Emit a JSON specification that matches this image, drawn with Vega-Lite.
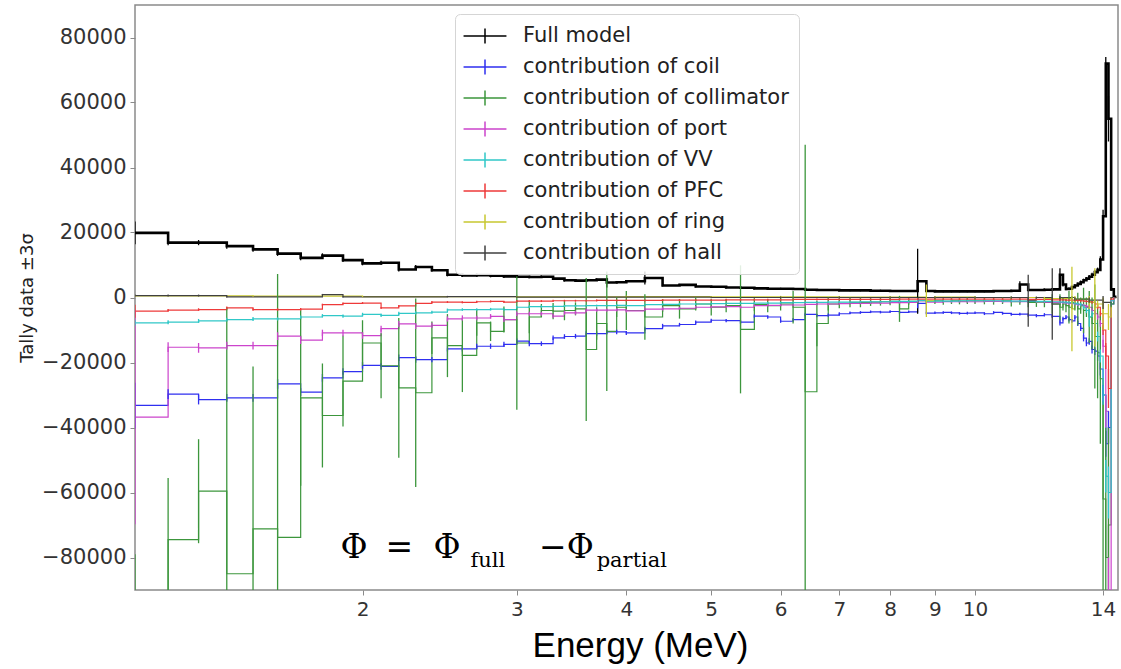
{
"$schema": "https://vega.github.io/schema/vega-lite/v6.json",
"width": 983, "height": 585,
"autosize": {"type": "none"},
"padding": {"left": 135, "top": 5, "right": 3, "bottom": 79},
"background": "white",
"config": {"view": {"stroke": "#8a8a8a", "strokeWidth": 1.5}, "font": "DejaVu Sans"},
"datasets": {
"formula": [{"E": 1.888, "v": -80000, "t": "Φ"}, {"E": 2.124, "v": -80000, "t": "="}, {"E": 2.41, "v": -80000, "t": "Φ"}, {"E": 3.18, "v": -80000, "t": "−Φ"}],
"sub": [{"E": 2.656, "v": -83000, "t": "full"}, {"E": 3.70, "v": -83000, "t": "partial"}],
"tally": [
{"s":"full","E":1.1,"v":19900,"err":3500},{"s":"full","E":1.2,"v":16900,"err":800},{"s":"full","E":1.3,"v":16900,"err":800},{"s":"full","E":1.4,"v":15800,"err":800},{"s":"full","E":1.5,"v":14800,"err":700},{"s":"full","E":1.6,"v":13500,"err":700},{"s":"full","E":1.7,"v":12200,"err":700},{"s":"full","E":1.8,"v":12900,"err":700},{"s":"full","E":1.9,"v":11500,"err":600},{"s":"full","E":2,"v":10500,"err":600},{"s":"full","E":2.1,"v":10700,"err":600},{"s":"full","E":2.2,"v":8600,"err":600},{"s":"full","E":2.3,"v":9400,"err":600},{"s":"full","E":2.4,"v":8400,"err":500},{"s":"full","E":2.5,"v":7000,"err":500},{"s":"full","E":2.6,"v":6800,"err":500},{"s":"full","E":2.7,"v":6900,"err":500},{"s":"full","E":2.8,"v":6700,"err":500},{"s":"full","E":2.9,"v":6500,"err":500},{"s":"full","E":3,"v":6400,"err":500},{"s":"full","E":3.1,"v":6300,"err":400},{"s":"full","E":3.2,"v":6400,"err":400},{"s":"full","E":3.3,"v":5800,"err":400},{"s":"full","E":3.4,"v":5300,"err":400},{"s":"full","E":3.5,"v":5200,"err":400},{"s":"full","E":3.6,"v":5300,"err":400},{"s":"full","E":3.7,"v":5500,"err":400},{"s":"full","E":3.8,"v":4600,"err":1500},{"s":"full","E":3.9,"v":4700,"err":400},
{"s":"full","E":4,"v":5000,"err":400},{"s":"full","E":4.2,"v":6000,"err":2000},{"s":"full","E":4.4,"v":3700,"err":300},{"s":"full","E":4.6,"v":3900,"err":300},{"s":"full","E":4.8,"v":3400,"err":300},{"s":"full","E":5,"v":3300,"err":300},{"s":"full","E":5.2,"v":3100,"err":300},{"s":"full","E":5.4,"v":3000,"err":300},{"s":"full","E":5.6,"v":2800,"err":300},{"s":"full","E":5.8,"v":2700,"err":300},{"s":"full","E":6,"v":2700,"err":300},{"s":"full","E":6.2,"v":2600,"err":300},{"s":"full","E":6.4,"v":2400,"err":300},{"s":"full","E":6.6,"v":2300,"err":300},{"s":"full","E":6.8,"v":2300,"err":300},{"s":"full","E":7,"v":2200,"err":300},{"s":"full","E":7.2,"v":2200,"err":300},{"s":"full","E":7.4,"v":2200,"err":300},{"s":"full","E":7.6,"v":2100,"err":300},{"s":"full","E":7.8,"v":2100,"err":300},{"s":"full","E":8,"v":2000,"err":300},{"s":"full","E":8.2,"v":2000,"err":300},{"s":"full","E":8.4,"v":2000,"err":300},{"s":"full","E":8.6,"v":5000,"err":10000},{"s":"full","E":8.8,"v":2000,"err":300},{"s":"full","E":9,"v":1900,"err":300},{"s":"full","E":9.2,"v":1900,"err":300},{"s":"full","E":9.4,"v":1900,"err":300},{"s":"full","E":9.6,"v":1900,"err":300},{"s":"full","E":9.8,"v":1900,"err":300},
{"s":"full","E":10,"v":1900,"err":300},{"s":"full","E":10.25,"v":1900,"err":300},{"s":"full","E":10.5,"v":2000,"err":300},{"s":"full","E":10.75,"v":2000,"err":300},{"s":"full","E":11,"v":2100,"err":300},{"s":"full","E":11.25,"v":4000,"err":1000},{"s":"full","E":11.5,"v":2300,"err":300},{"s":"full","E":11.75,"v":2300,"err":300},{"s":"full","E":12,"v":2400,"err":400},{"s":"full","E":12.25,"v":2500,"err":400},
{"s":"full","E":12.5,"v":7000,"err":2000},{"s":"full","E":12.6,"v":4000,"err":600},{"s":"full","E":12.7,"v":2600,"err":400},{"s":"full","E":12.8,"v":2700,"err":400},{"s":"full","E":12.9,"v":3200,"err":400},{"s":"full","E":13,"v":3700,"err":400},{"s":"full","E":13.1,"v":4200,"err":400},{"s":"full","E":13.2,"v":4700,"err":500},{"s":"full","E":13.3,"v":5300,"err":500},{"s":"full","E":13.4,"v":5800,"err":500},{"s":"full","E":13.5,"v":6400,"err":500},{"s":"full","E":13.6,"v":7000,"err":600},{"s":"full","E":13.7,"v":7800,"err":600},{"s":"full","E":13.8,"v":8500,"err":700},{"s":"full","E":13.9,"v":11700,"err":1000},{"s":"full","E":14,"v":25000,"err":2000},{"s":"full","E":14.1,"v":72000,"err":2000},{"s":"full","E":14.2,"v":55000,"err":7000},{"s":"full","E":14.3,"v":2500,"err":500},{"s":"full","E":14.4,"v":200,"err":100},{"s":"full","E":14.5,"v":200,"err":0},

{"s":"coil","E":1.1,"v":-33200,"err":7000},{"s":"coil","E":1.2,"v":-29700,"err":1500},{"s":"coil","E":1.3,"v":-31400,"err":1500},{"s":"coil","E":1.4,"v":-30900,"err":1200},{"s":"coil","E":1.5,"v":-30900,"err":1200},{"s":"coil","E":1.6,"v":-26600,"err":1500},{"s":"coil","E":1.7,"v":-29100,"err":1200},{"s":"coil","E":1.8,"v":-24700,"err":1200},{"s":"coil","E":1.9,"v":-22800,"err":1000},{"s":"coil","E":2,"v":-20900,"err":1000},{"s":"coil","E":2.1,"v":-21200,"err":1000},{"s":"coil","E":2.2,"v":-18500,"err":1000},{"s":"coil","E":2.3,"v":-19100,"err":1000},{"s":"coil","E":2.4,"v":-19100,"err":800},{"s":"coil","E":2.5,"v":-15800,"err":800},{"s":"coil","E":2.6,"v":-15800,"err":800},{"s":"coil","E":2.7,"v":-15000,"err":800},{"s":"coil","E":2.8,"v":-15000,"err":800},{"s":"coil","E":2.9,"v":-14400,"err":800},{"s":"coil","E":3,"v":-13400,"err":800},{"s":"coil","E":3.1,"v":-14200,"err":800},{"s":"coil","E":3.2,"v":-14200,"err":700},{"s":"coil","E":3.3,"v":-12400,"err":700},{"s":"coil","E":3.4,"v":-12000,"err":700},{"s":"coil","E":3.5,"v":-11900,"err":700},{"s":"coil","E":3.6,"v":-11100,"err":700},{"s":"coil","E":3.7,"v":-11100,"err":700},{"s":"coil","E":3.8,"v":-10600,"err":700},{"s":"coil","E":3.9,"v":-10600,"err":700},
{"s":"coil","E":4,"v":-10900,"err":600},{"s":"coil","E":4.2,"v":-9600,"err":600},{"s":"coil","E":4.4,"v":-8700,"err":600},{"s":"coil","E":4.6,"v":-8300,"err":500},{"s":"coil","E":4.8,"v":-7600,"err":500},{"s":"coil","E":5,"v":-7000,"err":500},{"s":"coil","E":5.2,"v":-7100,"err":500},{"s":"coil","E":5.4,"v":-7600,"err":500},{"s":"coil","E":5.6,"v":-5700,"err":500},{"s":"coil","E":5.8,"v":-6000,"err":500},{"s":"coil","E":6,"v":-7300,"err":500},{"s":"coil","E":6.2,"v":-6800,"err":500},{"s":"coil","E":6.4,"v":-5200,"err":500},{"s":"coil","E":6.6,"v":-5600,"err":500},{"s":"coil","E":6.8,"v":-5400,"err":500},{"s":"coil","E":7,"v":-5000,"err":500},{"s":"coil","E":7.2,"v":-4700,"err":400},{"s":"coil","E":7.4,"v":-4600,"err":400},{"s":"coil","E":7.6,"v":-4400,"err":400},{"s":"coil","E":7.8,"v":-4500,"err":400},{"s":"coil","E":8,"v":-4300,"err":400},{"s":"coil","E":8.2,"v":-4600,"err":400},{"s":"coil","E":8.4,"v":-4400,"err":400},{"s":"coil","E":8.6,"v":-1800,"err":1500},{"s":"coil","E":8.8,"v":-4800,"err":400},{"s":"coil","E":9,"v":-4700,"err":400},{"s":"coil","E":9.2,"v":-4600,"err":400},{"s":"coil","E":9.4,"v":-4700,"err":400},{"s":"coil","E":9.6,"v":-4900,"err":400},{"s":"coil","E":9.8,"v":-4800,"err":400},
{"s":"coil","E":10,"v":-4700,"err":400},{"s":"coil","E":10.25,"v":-5000,"err":400},{"s":"coil","E":10.5,"v":-4600,"err":400},{"s":"coil","E":10.75,"v":-4900,"err":400},{"s":"coil","E":11,"v":-5200,"err":400},{"s":"coil","E":11.25,"v":-5100,"err":400},{"s":"coil","E":11.5,"v":-5400,"err":500},{"s":"coil","E":11.75,"v":-5600,"err":500},{"s":"coil","E":12,"v":-5300,"err":500},{"s":"coil","E":12.25,"v":-5800,"err":500},
{"s":"coil","E":12.5,"v":-7800,"err":800},{"s":"coil","E":12.6,"v":-6500,"err":600},{"s":"coil","E":12.7,"v":-6000,"err":600},{"s":"coil","E":12.8,"v":-6800,"err":600},{"s":"coil","E":12.9,"v":-7200,"err":600},{"s":"coil","E":13,"v":-6000,"err":600},{"s":"coil","E":13.1,"v":-8000,"err":800},{"s":"coil","E":13.2,"v":-9500,"err":800},{"s":"coil","E":13.3,"v":-12500,"err":1000},{"s":"coil","E":13.4,"v":-14000,"err":1000},{"s":"coil","E":13.5,"v":-13500,"err":1000},{"s":"coil","E":13.6,"v":-16000,"err":1200},{"s":"coil","E":13.7,"v":-16500,"err":1200},{"s":"coil","E":13.8,"v":-18000,"err":1500},{"s":"coil","E":13.9,"v":-22000,"err":2000},{"s":"coil","E":14,"v":-30000,"err":3000},{"s":"coil","E":14.1,"v":-45000,"err":4000},{"s":"coil","E":14.2,"v":-40000,"err":5000},{"s":"coil","E":14.3,"v":-2000,"err":500},{"s":"coil","E":14.4,"v":0,"err":100},{"s":"coil","E":14.5,"v":0,"err":0},

{"s":"collimator","E":1.1,"v":-105000,"err":26000},{"s":"collimator","E":1.2,"v":-74500,"err":19000},{"s":"collimator","E":1.3,"v":-59600,"err":16000},{"s":"collimator","E":1.4,"v":-85000,"err":82000},{"s":"collimator","E":1.5,"v":-71200,"err":50000},{"s":"collimator","E":1.6,"v":-73800,"err":81000},{"s":"collimator","E":1.7,"v":-30900,"err":27000},{"s":"collimator","E":1.8,"v":-36300,"err":16000},{"s":"collimator","E":1.9,"v":-25700,"err":14000},{"s":"collimator","E":2,"v":-14000,"err":7000},{"s":"collimator","E":2.1,"v":-21000,"err":10000},{"s":"collimator","E":2.2,"v":-27800,"err":21500},{"s":"collimator","E":2.3,"v":-29300,"err":29000},{"s":"collimator","E":2.4,"v":-12400,"err":5000},{"s":"collimator","E":2.5,"v":-14800,"err":9700},{"s":"collimator","E":2.6,"v":-17800,"err":11300},{"s":"collimator","E":2.7,"v":-7800,"err":4000},{"s":"collimator","E":2.8,"v":-10400,"err":3000},{"s":"collimator","E":2.9,"v":-6800,"err":4000},{"s":"collimator","E":3,"v":-14000,"err":20500},{"s":"collimator","E":3.1,"v":-6000,"err":5000},{"s":"collimator","E":3.2,"v":-4000,"err":2000},{"s":"collimator","E":3.3,"v":-4200,"err":2500},{"s":"collimator","E":3.4,"v":-4000,"err":3000},{"s":"collimator","E":3.5,"v":-3500,"err":2000},{"s":"collimator","E":3.6,"v":-16000,"err":22000},{"s":"collimator","E":3.7,"v":-8000,"err":5000},{"s":"collimator","E":3.8,"v":-10400,"err":18400},{"s":"collimator","E":3.9,"v":-3000,"err":3000},
{"s":"collimator","E":4,"v":-4000,"err":6000},{"s":"collimator","E":4.2,"v":-6000,"err":7000},{"s":"collimator","E":4.4,"v":-2500,"err":2000},{"s":"collimator","E":4.6,"v":-3500,"err":3000},{"s":"collimator","E":4.8,"v":-2000,"err":2000},{"s":"collimator","E":5,"v":-3000,"err":2500},{"s":"collimator","E":5.2,"v":-2500,"err":2000},{"s":"collimator","E":5.4,"v":-9800,"err":19700},{"s":"collimator","E":5.6,"v":-2200,"err":2000},{"s":"collimator","E":5.8,"v":-2500,"err":2000},{"s":"collimator","E":6,"v":-2000,"err":2000},{"s":"collimator","E":6.2,"v":-3000,"err":5000},{"s":"collimator","E":6.4,"v":-29000,"err":76000},{"s":"collimator","E":6.6,"v":-8000,"err":7000},{"s":"collimator","E":6.8,"v":-2000,"err":2000},{"s":"collimator","E":7,"v":-1800,"err":1500},{"s":"collimator","E":7.2,"v":-1500,"err":1500},{"s":"collimator","E":7.4,"v":-1500,"err":1500},{"s":"collimator","E":7.6,"v":-1400,"err":1200},{"s":"collimator","E":7.8,"v":-1300,"err":1200},{"s":"collimator","E":8,"v":-1200,"err":1200},{"s":"collimator","E":8.2,"v":-3500,"err":4000},{"s":"collimator","E":8.4,"v":-1200,"err":1000},{"s":"collimator","E":8.6,"v":-1000,"err":1000},{"s":"collimator","E":8.8,"v":-1100,"err":1000},{"s":"collimator","E":9,"v":-1000,"err":1000},{"s":"collimator","E":9.2,"v":-1200,"err":1000},{"s":"collimator","E":9.4,"v":-1000,"err":1000},{"s":"collimator","E":9.6,"v":-1100,"err":1000},{"s":"collimator","E":9.8,"v":-1000,"err":1000},
{"s":"collimator","E":10,"v":-1000,"err":1000},{"s":"collimator","E":10.25,"v":-1100,"err":1000},{"s":"collimator","E":10.5,"v":-1200,"err":1000},{"s":"collimator","E":10.75,"v":-1000,"err":1000},{"s":"collimator","E":11,"v":-1300,"err":1500},{"s":"collimator","E":11.25,"v":-1200,"err":1000},{"s":"collimator","E":11.5,"v":-1500,"err":1500},{"s":"collimator","E":11.75,"v":-1400,"err":1500},{"s":"collimator","E":12,"v":-1500,"err":1500},{"s":"collimator","E":12.25,"v":-2000,"err":3000},
{"s":"collimator","E":12.5,"v":-3000,"err":4000},{"s":"collimator","E":12.6,"v":-2000,"err":2000},{"s":"collimator","E":12.7,"v":-2500,"err":2000},{"s":"collimator","E":12.8,"v":-3000,"err":5000},{"s":"collimator","E":12.9,"v":-1500,"err":2000},{"s":"collimator","E":13,"v":-2000,"err":2000},{"s":"collimator","E":13.1,"v":-3500,"err":5000},{"s":"collimator","E":13.2,"v":-2500,"err":2500},{"s":"collimator","E":13.3,"v":-4000,"err":7000},{"s":"collimator","E":13.4,"v":-3000,"err":3000},{"s":"collimator","E":13.5,"v":-6000,"err":8000},{"s":"collimator","E":13.6,"v":-8000,"err":8000},{"s":"collimator","E":13.7,"v":-12000,"err":16000},{"s":"collimator","E":13.8,"v":-17000,"err":14000},{"s":"collimator","E":13.9,"v":-25000,"err":20000},{"s":"collimator","E":14,"v":-62000,"err":30000},{"s":"collimator","E":14.1,"v":-80000,"err":40000},{"s":"collimator","E":14.2,"v":-70000,"err":30000},{"s":"collimator","E":14.3,"v":-2000,"err":1000},{"s":"collimator","E":14.4,"v":0,"err":100},{"s":"collimator","E":14.5,"v":0,"err":0},

{"s":"port","E":1.1,"v":-36800,"err":33000},{"s":"port","E":1.2,"v":-15300,"err":1500},{"s":"port","E":1.3,"v":-15500,"err":1500},{"s":"port","E":1.4,"v":-14800,"err":1200},{"s":"port","E":1.5,"v":-14800,"err":1200},{"s":"port","E":1.6,"v":-11900,"err":1200},{"s":"port","E":1.7,"v":-13100,"err":1200},{"s":"port","E":1.8,"v":-10900,"err":1000},{"s":"port","E":1.9,"v":-10900,"err":1000},{"s":"port","E":2,"v":-11700,"err":1000},{"s":"port","E":2.1,"v":-9600,"err":900},{"s":"port","E":2.2,"v":-8100,"err":900},{"s":"port","E":2.3,"v":-8800,"err":900},{"s":"port","E":2.4,"v":-8600,"err":800},{"s":"port","E":2.5,"v":-6600,"err":800},{"s":"port","E":2.6,"v":-6300,"err":800},{"s":"port","E":2.7,"v":-6300,"err":700},{"s":"port","E":2.8,"v":-5800,"err":700},{"s":"port","E":2.9,"v":-6800,"err":700},{"s":"port","E":3,"v":-5000,"err":700},{"s":"port","E":3.1,"v":-5000,"err":600},{"s":"port","E":3.2,"v":-5000,"err":600},{"s":"port","E":3.3,"v":-5700,"err":600},{"s":"port","E":3.4,"v":-4700,"err":600},{"s":"port","E":3.5,"v":-4700,"err":600},{"s":"port","E":3.6,"v":-3900,"err":600},{"s":"port","E":3.7,"v":-3900,"err":500},{"s":"port","E":3.8,"v":-3900,"err":500},{"s":"port","E":3.9,"v":-3800,"err":500},
{"s":"port","E":4,"v":-4100,"err":500},{"s":"port","E":4.2,"v":-3600,"err":500},{"s":"port","E":4.4,"v":-3500,"err":500},{"s":"port","E":4.6,"v":-3300,"err":400},{"s":"port","E":4.8,"v":-3000,"err":400},{"s":"port","E":5,"v":-2900,"err":400},{"s":"port","E":5.2,"v":-2800,"err":400},{"s":"port","E":5.4,"v":-3000,"err":400},{"s":"port","E":5.6,"v":-2500,"err":400},{"s":"port","E":5.8,"v":-2400,"err":400},{"s":"port","E":6,"v":-2300,"err":400},{"s":"port","E":6.2,"v":-2300,"err":400},{"s":"port","E":6.4,"v":-2100,"err":400},{"s":"port","E":6.6,"v":-2000,"err":400},{"s":"port","E":6.8,"v":-2000,"err":400},{"s":"port","E":7,"v":-1900,"err":300},{"s":"port","E":7.2,"v":-1800,"err":300},{"s":"port","E":7.4,"v":-1800,"err":300},{"s":"port","E":7.6,"v":-1700,"err":300},{"s":"port","E":7.8,"v":-1700,"err":300},{"s":"port","E":8,"v":-1600,"err":300},{"s":"port","E":8.2,"v":-1600,"err":300},{"s":"port","E":8.4,"v":-1500,"err":300},{"s":"port","E":8.6,"v":-1000,"err":500},{"s":"port","E":8.8,"v":-1400,"err":300},{"s":"port","E":9,"v":-1400,"err":300},{"s":"port","E":9.2,"v":-1300,"err":300},{"s":"port","E":9.4,"v":-1300,"err":300},{"s":"port","E":9.6,"v":-1300,"err":300},{"s":"port","E":9.8,"v":-1300,"err":300},
{"s":"port","E":10,"v":-1300,"err":300},{"s":"port","E":10.25,"v":-1200,"err":300},{"s":"port","E":10.5,"v":-1200,"err":300},{"s":"port","E":10.75,"v":-1300,"err":300},{"s":"port","E":11,"v":-1200,"err":300},{"s":"port","E":11.25,"v":-1300,"err":300},{"s":"port","E":11.5,"v":-1200,"err":300},{"s":"port","E":11.75,"v":-1300,"err":300},{"s":"port","E":12,"v":-1400,"err":300},{"s":"port","E":12.25,"v":-1500,"err":300},
{"s":"port","E":12.5,"v":-1500,"err":400},{"s":"port","E":12.6,"v":-1600,"err":400},{"s":"port","E":12.7,"v":-1700,"err":400},{"s":"port","E":12.8,"v":-1800,"err":400},{"s":"port","E":12.9,"v":-1900,"err":400},{"s":"port","E":13,"v":-2000,"err":400},{"s":"port","E":13.1,"v":-2200,"err":400},{"s":"port","E":13.2,"v":-2300,"err":400},{"s":"port","E":13.3,"v":-2500,"err":500},{"s":"port","E":13.4,"v":-2700,"err":500},{"s":"port","E":13.5,"v":-3000,"err":500},{"s":"port","E":13.6,"v":-4000,"err":600},{"s":"port","E":13.7,"v":-5000,"err":700},{"s":"port","E":13.8,"v":-6000,"err":800},{"s":"port","E":13.9,"v":-8000,"err":1000},{"s":"port","E":14,"v":-15000,"err":2000},{"s":"port","E":14.1,"v":-35000,"err":5000},{"s":"port","E":14.2,"v":-100000,"err":20000},{"s":"port","E":14.3,"v":-1000,"err":300},{"s":"port","E":14.4,"v":0,"err":100},{"s":"port","E":14.5,"v":0,"err":0},

{"s":"VV","E":1.1,"v":-7800,"err":800},{"s":"VV","E":1.2,"v":-7600,"err":600},{"s":"VV","E":1.3,"v":-7200,"err":600},{"s":"VV","E":1.4,"v":-6800,"err":600},{"s":"VV","E":1.5,"v":-6600,"err":600},{"s":"VV","E":1.6,"v":-6600,"err":500},{"s":"VV","E":1.7,"v":-6000,"err":500},{"s":"VV","E":1.8,"v":-5600,"err":500},{"s":"VV","E":1.9,"v":-5700,"err":500},{"s":"VV","E":2,"v":-5200,"err":500},{"s":"VV","E":2.1,"v":-5500,"err":500},{"s":"VV","E":2.2,"v":-4900,"err":500},{"s":"VV","E":2.3,"v":-4700,"err":500},{"s":"VV","E":2.4,"v":-4500,"err":400},{"s":"VV","E":2.5,"v":-3800,"err":400},{"s":"VV","E":2.6,"v":-3700,"err":400},{"s":"VV","E":2.7,"v":-3700,"err":400},{"s":"VV","E":2.8,"v":-3600,"err":400},{"s":"VV","E":2.9,"v":-3700,"err":400},{"s":"VV","E":3,"v":-3000,"err":400},{"s":"VV","E":3.1,"v":-2800,"err":400},{"s":"VV","E":3.2,"v":-2800,"err":400},{"s":"VV","E":3.3,"v":-2700,"err":300},{"s":"VV","E":3.4,"v":-2600,"err":300},{"s":"VV","E":3.5,"v":-2600,"err":300},{"s":"VV","E":3.6,"v":-2500,"err":300},{"s":"VV","E":3.7,"v":-2500,"err":300},{"s":"VV","E":3.8,"v":-2500,"err":300},{"s":"VV","E":3.9,"v":-2400,"err":300},
{"s":"VV","E":4,"v":-2500,"err":300},{"s":"VV","E":4.2,"v":-2200,"err":300},{"s":"VV","E":4.4,"v":-2100,"err":300},{"s":"VV","E":4.6,"v":-2000,"err":300},{"s":"VV","E":4.8,"v":-2000,"err":300},{"s":"VV","E":5,"v":-1900,"err":300},{"s":"VV","E":5.2,"v":-1800,"err":300},{"s":"VV","E":5.4,"v":-1800,"err":300},{"s":"VV","E":5.6,"v":-1700,"err":300},{"s":"VV","E":5.8,"v":-1700,"err":300},{"s":"VV","E":6,"v":-1600,"err":300},{"s":"VV","E":6.2,"v":-1600,"err":300},{"s":"VV","E":6.4,"v":-1500,"err":300},{"s":"VV","E":6.6,"v":-1500,"err":300},{"s":"VV","E":6.8,"v":-1400,"err":300},{"s":"VV","E":7,"v":-1400,"err":300},{"s":"VV","E":7.2,"v":-1400,"err":300},{"s":"VV","E":7.4,"v":-1300,"err":300},{"s":"VV","E":7.6,"v":-1300,"err":300},{"s":"VV","E":7.8,"v":-1300,"err":300},{"s":"VV","E":8,"v":-1200,"err":300},{"s":"VV","E":8.2,"v":-1200,"err":300},{"s":"VV","E":8.4,"v":-1200,"err":300},{"s":"VV","E":8.6,"v":-900,"err":300},{"s":"VV","E":8.8,"v":-1200,"err":300},{"s":"VV","E":9,"v":-1100,"err":300},{"s":"VV","E":9.2,"v":-1100,"err":300},{"s":"VV","E":9.4,"v":-1100,"err":300},{"s":"VV","E":9.6,"v":-1000,"err":300},{"s":"VV","E":9.8,"v":-1000,"err":300},
{"s":"VV","E":10,"v":-1000,"err":300},{"s":"VV","E":10.25,"v":-1000,"err":300},{"s":"VV","E":10.5,"v":-1000,"err":300},{"s":"VV","E":10.75,"v":-1100,"err":300},{"s":"VV","E":11,"v":-1100,"err":300},{"s":"VV","E":11.25,"v":-1100,"err":300},{"s":"VV","E":11.5,"v":-1200,"err":300},{"s":"VV","E":11.75,"v":-1200,"err":300},{"s":"VV","E":12,"v":-1200,"err":300},{"s":"VV","E":12.25,"v":-1300,"err":300},
{"s":"VV","E":12.5,"v":-1400,"err":400},{"s":"VV","E":12.6,"v":-1400,"err":400},{"s":"VV","E":12.7,"v":-1500,"err":400},{"s":"VV","E":12.8,"v":-1600,"err":400},{"s":"VV","E":12.9,"v":-1700,"err":400},{"s":"VV","E":13,"v":-1800,"err":400},{"s":"VV","E":13.1,"v":-2000,"err":400},{"s":"VV","E":13.2,"v":-2200,"err":500},{"s":"VV","E":13.3,"v":-3000,"err":600},{"s":"VV","E":13.4,"v":-4000,"err":800},{"s":"VV","E":13.5,"v":-6000,"err":3000},{"s":"VV","E":13.6,"v":-5000,"err":1000},{"s":"VV","E":13.7,"v":-8000,"err":1000},{"s":"VV","E":13.8,"v":-12000,"err":1500},{"s":"VV","E":13.9,"v":-18000,"err":2000},{"s":"VV","E":14,"v":-30000,"err":3000},{"s":"VV","E":14.1,"v":-55000,"err":5000},{"s":"VV","E":14.2,"v":-60000,"err":8000},{"s":"VV","E":14.3,"v":-1000,"err":300},{"s":"VV","E":14.4,"v":0,"err":100},{"s":"VV","E":14.5,"v":0,"err":0},

{"s":"PFC","E":1.1,"v":-4200,"err":2000},{"s":"PFC","E":1.2,"v":-3900,"err":400},{"s":"PFC","E":1.3,"v":-3700,"err":400},{"s":"PFC","E":1.4,"v":-3200,"err":400},{"s":"PFC","E":1.5,"v":-3700,"err":400},{"s":"PFC","E":1.6,"v":-3700,"err":400},{"s":"PFC","E":1.7,"v":-3600,"err":400},{"s":"PFC","E":1.8,"v":-2200,"err":300},{"s":"PFC","E":1.9,"v":-1800,"err":300},{"s":"PFC","E":2,"v":-1700,"err":300},{"s":"PFC","E":2.1,"v":-3200,"err":300},{"s":"PFC","E":2.2,"v":-2600,"err":300},{"s":"PFC","E":2.3,"v":-1800,"err":300},{"s":"PFC","E":2.4,"v":-1400,"err":300},{"s":"PFC","E":2.5,"v":-1400,"err":300},{"s":"PFC","E":2.6,"v":-1500,"err":300},{"s":"PFC","E":2.7,"v":-1300,"err":300},{"s":"PFC","E":2.8,"v":-1200,"err":300},{"s":"PFC","E":2.9,"v":-1400,"err":300},{"s":"PFC","E":3,"v":-1100,"err":300},{"s":"PFC","E":3.1,"v":-1100,"err":300},{"s":"PFC","E":3.2,"v":-1100,"err":300},{"s":"PFC","E":3.3,"v":-1000,"err":300},{"s":"PFC","E":3.4,"v":-1000,"err":300},{"s":"PFC","E":3.5,"v":-1000,"err":300},{"s":"PFC","E":3.6,"v":-1000,"err":300},{"s":"PFC","E":3.7,"v":-900,"err":300},{"s":"PFC","E":3.8,"v":-900,"err":300},{"s":"PFC","E":3.9,"v":-900,"err":300},
{"s":"PFC","E":4,"v":-900,"err":300},{"s":"PFC","E":4.2,"v":-900,"err":300},{"s":"PFC","E":4.4,"v":-800,"err":300},{"s":"PFC","E":4.6,"v":-800,"err":300},{"s":"PFC","E":4.8,"v":-800,"err":300},{"s":"PFC","E":5,"v":-800,"err":300},{"s":"PFC","E":5.2,"v":-700,"err":300},{"s":"PFC","E":5.4,"v":-700,"err":300},{"s":"PFC","E":5.6,"v":-700,"err":300},{"s":"PFC","E":5.8,"v":-700,"err":300},{"s":"PFC","E":6,"v":-700,"err":300},{"s":"PFC","E":6.2,"v":-600,"err":300},{"s":"PFC","E":6.4,"v":-600,"err":300},{"s":"PFC","E":6.6,"v":-600,"err":300},{"s":"PFC","E":6.8,"v":-600,"err":300},{"s":"PFC","E":7,"v":-600,"err":300},{"s":"PFC","E":7.2,"v":-600,"err":300},{"s":"PFC","E":7.4,"v":-600,"err":300},{"s":"PFC","E":7.6,"v":-600,"err":300},{"s":"PFC","E":7.8,"v":-600,"err":300},{"s":"PFC","E":8,"v":-600,"err":300},{"s":"PFC","E":8.2,"v":-500,"err":300},{"s":"PFC","E":8.4,"v":-500,"err":300},{"s":"PFC","E":8.6,"v":-500,"err":300},{"s":"PFC","E":8.8,"v":-500,"err":300},{"s":"PFC","E":9,"v":-500,"err":300},{"s":"PFC","E":9.2,"v":-500,"err":300},{"s":"PFC","E":9.4,"v":-500,"err":300},{"s":"PFC","E":9.6,"v":-500,"err":300},{"s":"PFC","E":9.8,"v":-500,"err":300},
{"s":"PFC","E":10,"v":-500,"err":300},{"s":"PFC","E":10.25,"v":-500,"err":300},{"s":"PFC","E":10.5,"v":-500,"err":300},{"s":"PFC","E":10.75,"v":-500,"err":300},{"s":"PFC","E":11,"v":-500,"err":300},{"s":"PFC","E":11.25,"v":-500,"err":300},{"s":"PFC","E":11.5,"v":-600,"err":300},{"s":"PFC","E":11.75,"v":-600,"err":300},{"s":"PFC","E":12,"v":-600,"err":300},{"s":"PFC","E":12.25,"v":-700,"err":300},
{"s":"PFC","E":12.5,"v":-700,"err":300},{"s":"PFC","E":12.6,"v":-700,"err":300},{"s":"PFC","E":12.7,"v":-800,"err":300},{"s":"PFC","E":12.8,"v":-800,"err":300},{"s":"PFC","E":12.9,"v":-800,"err":300},{"s":"PFC","E":13,"v":-900,"err":300},{"s":"PFC","E":13.1,"v":-900,"err":300},{"s":"PFC","E":13.2,"v":-1000,"err":300},{"s":"PFC","E":13.3,"v":-1100,"err":300},{"s":"PFC","E":13.4,"v":-1200,"err":300},{"s":"PFC","E":13.5,"v":-1300,"err":300},{"s":"PFC","E":13.6,"v":-1500,"err":400},{"s":"PFC","E":13.7,"v":-2000,"err":500},{"s":"PFC","E":13.8,"v":-3000,"err":600},{"s":"PFC","E":13.9,"v":-5000,"err":800},{"s":"PFC","E":14,"v":-10000,"err":1500},{"s":"PFC","E":14.1,"v":-18000,"err":4000},{"s":"PFC","E":14.2,"v":-28000,"err":6000},{"s":"PFC","E":14.3,"v":-500,"err":300},{"s":"PFC","E":14.4,"v":0,"err":100},{"s":"PFC","E":14.5,"v":0,"err":0},

{"s":"ring","E":1.1,"v":500,"err":200},{"s":"ring","E":1.5,"v":400,"err":200},{"s":"ring","E":2,"v":300,"err":200},{"s":"ring","E":3,"v":200,"err":200},{"s":"ring","E":4,"v":300,"err":300},{"s":"ring","E":5,"v":200,"err":300},{"s":"ring","E":6,"v":200,"err":300},{"s":"ring","E":7,"v":100,"err":300},{"s":"ring","E":8,"v":100,"err":300},{"s":"ring","E":8.8,"v":-1000,"err":5000},{"s":"ring","E":9,"v":100,"err":300},{"s":"ring","E":10,"v":0,"err":300},{"s":"ring","E":11,"v":0,"err":300},{"s":"ring","E":12,"v":-300,"err":500},{"s":"ring","E":12.9,"v":-3500,"err":13000},{"s":"ring","E":13,"v":-500,"err":1000},{"s":"ring","E":13.5,"v":-1500,"err":2000},{"s":"ring","E":13.7,"v":-3000,"err":12000},{"s":"ring","E":13.8,"v":-2000,"err":1000},{"s":"ring","E":14,"v":-5000,"err":5000},{"s":"ring","E":14.2,"v":-6000,"err":4000},{"s":"ring","E":14.3,"v":0,"err":100},{"s":"ring","E":14.5,"v":0,"err":0},

{"s":"hall","E":1.1,"v":600,"err":300},{"s":"hall","E":1.2,"v":600,"err":300},{"s":"hall","E":1.3,"v":600,"err":300},{"s":"hall","E":1.4,"v":200,"err":200},{"s":"hall","E":1.8,"v":900,"err":200},{"s":"hall","E":1.9,"v":200,"err":200},{"s":"hall","E":2.5,"v":300,"err":200},{"s":"hall","E":3,"v":100,"err":200},{"s":"hall","E":4,"v":100,"err":200},{"s":"hall","E":5,"v":0,"err":200},{"s":"hall","E":6,"v":0,"err":300},{"s":"hall","E":7,"v":0,"err":300},{"s":"hall","E":8,"v":0,"err":300},{"s":"hall","E":9,"v":0,"err":300},{"s":"hall","E":10,"v":0,"err":300},{"s":"hall","E":11,"v":0,"err":300},{"s":"hall","E":11.5,"v":-1000,"err":8000},{"s":"hall","E":11.75,"v":0,"err":300},{"s":"hall","E":12.25,"v":-2000,"err":11000},{"s":"hall","E":12.5,"v":0,"err":500},{"s":"hall","E":13,"v":-500,"err":500},{"s":"hall","E":13.5,"v":-800,"err":800},{"s":"hall","E":14,"v":-1500,"err":2000},{"s":"hall","E":14.3,"v":0,"err":100},{"s":"hall","E":14.5,"v":0,"err":0}
]
},
"layer": [
{
"data": {"name": "tally"},
"mark": {"type": "line", "interpolate": "step-after", "clip": true},
"encoding": {
"x": {"field": "E", "type": "quantitative", "title": "Energy (MeV)",
"scale": {"type": "log", "domain": [1.1, 14.56], "nice": false},
"axis": {"values": [2,3,4,5,6,7,8,9,10,14], "format": "d", "grid": false, "domain": false, "labelFont": "DejaVu Sans", "labelFontSize": 20, "labelColor": "#333", "tickColor": "#8a8a8a", "tickSize": 5, "labelPadding": 4, "titleFont": "Liberation Sans", "titleFontSize": 35, "titleFontWeight": "normal", "titleColor": "#000", "titlePadding": 9, "titleX": 505}},
"y": {"field": "v", "type": "quantitative", "title": "Tally data ±3σ",
"scale": {"domain": [-90000, 90000], "nice": false},
"axis": {"values": [-80000,-60000,-40000,-20000,0,20000,40000,60000,80000], "format": "d", "grid": false, "domain": false, "labelFont": "DejaVu Sans", "labelFontSize": 21, "labelColor": "#333", "tickColor": "#8a8a8a", "tickSize": 5, "labelPadding": 4, "titleFont": "DejaVu Sans", "titleFontSize": 18, "titleFontWeight": "normal", "titleColor": "#222", "titlePadding": 5}},
"color": {"field": "s", "type": "nominal",
"scale": {"domain": ["full","coil","collimator","port","VV","PFC","ring","hall"], "range": ["#000000","#2f2ff0","#3c963c","#cc44cc","#30c8c8","#ee3a3a","#c8c830","#404040"]},
"legend": {"title": null, "orient": "none", "legendX": 320, "legendY": 9,
"labelExpr": "datum.label === 'full' ? 'Full model' : 'contribution of ' + datum.label",
"symbolType": "M-1.95,0H1.95M0,-0.68V0.68", "symbolSize": 484, "symbolStrokeWidth": 1.5, "symbolFillColor": "transparent",
"labelFont": "DejaVu Sans", "labelFontSize": 21, "labelColor": "#222", "labelLimit": 400,
"labelOffset": 26, "rowPadding": 8, "padding": 10, "symbolOffset": 8,
"fillColor": "rgba(255,255,255,0.85)", "strokeColor": "#d5d5d5", "cornerRadius": 5}},
"strokeWidth": {"condition": {"test": "datum.s === 'full'", "value": 2.6}, "value": 1.2}
}
},
{
"data": {"name": "tally"},
"mark": {"type": "errorbar", "clip": true, "thickness": 1.3},
"encoding": {
"x": {"field": "E", "type": "quantitative", "title": "Energy (MeV)"},
"y": {"field": "v", "type": "quantitative", "title": "Tally data ±3σ"},
"yError": {"field": "err"},
"color": {"field": "s", "type": "nominal"}
}
},
{
"data": {"name": "formula"},
"mark": {"type": "text", "align": "left", "baseline": "alphabetic", "font": "DejaVu Serif", "fontSize": 33, "color": "#000"},
"encoding": {"x": {"field": "E", "type": "quantitative", "title": "Energy (MeV)"}, "y": {"field": "v", "type": "quantitative", "title": "Tally data ±3σ"}, "text": {"field": "t"}}
},
{
"data": {"name": "sub"},
"mark": {"type": "text", "align": "left", "baseline": "alphabetic", "font": "DejaVu Serif", "fontSize": 21, "color": "#000"},
"encoding": {"x": {"field": "E", "type": "quantitative", "title": "Energy (MeV)"}, "y": {"field": "v", "type": "quantitative", "title": "Tally data ±3σ"}, "text": {"field": "t"}}
}
]
}
